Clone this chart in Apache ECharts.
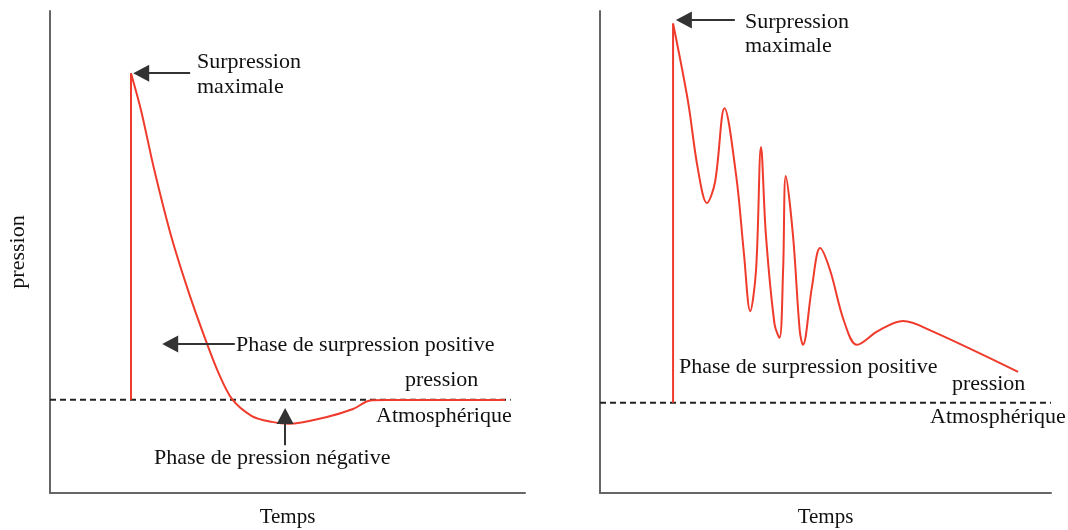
<!DOCTYPE html>
<html>
<head>
<meta charset="utf-8">
<script src="https://cdn.jsdelivr.net/npm/echarts@6/dist/echarts.min.js"></script>
<style>
  html, body { margin: 0; padding: 0; background: #fff; }
  #chart { width: 1068px; height: 530px; }
</style>
</head>
<body>
<div id="chart"></div>
<script>
// temps (0..100) / pression relative (0 = pression atmosphérique)
const spikeLeft = [[17.05, 0], [17.05, 84]];
const curveLeft = [
  [17.05, 84], [19.2, 74.3], [21.9, 59.4], [25.5, 42.1], [29.1, 28.0],
  [32.6, 15.9], [35.4, 7.1], [38.3, 0.2], [42.5, -4.2], [46.7, -5.7],
  [50.3, -6.2], [58.1, -4.5], [63.8, -2.4], [67.4, -0.2], [71.0, -0.1],
  [95.8, -0.1]
];
const spikeRight = [[16.2, 0], [16.2, 96.8]];
const curveRight = [
  [16.2, 96.8], [19.5, 77.0], [21.7, 59.7], [23.7, 51.0], [25.5, 56.3],
  [27.6, 75.2], [30.2, 57.9], [31.9, 38.3], [33.3, 23.4], [34.6, 33.9],
  [35.7, 65.3], [36.8, 42.6], [38.7, 20.1], [39.8, 16.6], [40.6, 33.9],
  [41.2, 57.9], [42.8, 42.6], [44.3, 18.3], [45.0, 14.8], [47.0, 29.6],
  [48.8, 39.5], [51.0, 33.9], [54.1, 20.9], [57.0, 14.8], [61.6, 18.3],
  [67.2, 20.9], [73.6, 18.3], [92.7, 7.9]
];
const atmLeft = [[0, 0], [97, 0]];
const atmRight = [[0, 0], [100, 0]];

const red = "#ef3b2c";
const serif = "Liberation Serif";

const chart = echarts.init(document.getElementById("chart"));

function axisX(idx) {
  return {
    type: "value", gridIndex: idx, min: 0, max: 100,
    name: "Temps", nameLocation: "middle", nameGap: 14,
    nameTextStyle: { fontFamily: serif, fontSize: 21, color: "#111" },
    axisLine: { onZero: false, lineStyle: { color: "#666", width: 2 } },
    axisTick: { show: false }, axisLabel: { show: false }, splitLine: { show: false }
  };
}
function axisY(idx, min, name) {
  return {
    type: "value", gridIndex: idx, min: min, max: 100,
    name: name, nameLocation: "middle", nameGap: 21, nameRotate: 90,
    nameTextStyle: { fontFamily: serif, fontSize: 22, color: "#111" },
    axisLine: { show: true, onZero: false, lineStyle: { color: "#666", width: 2 } },
    axisTick: { show: false }, axisLabel: { show: false }, splitLine: { show: false }
  };
}
function arrows(list) {
  return {
    silent: true, animation: false,
    symbol: ["none", "triangle"], symbolSize: [17, 16],
    lineStyle: { color: "#333", width: 2, type: "solid" },
    label: { show: false },
    data: list.map(a => [{ coord: a[0] }, { coord: a[1] }])
  };
}
function txt(x, y, s) {
  return {
    type: "text", left: x, top: y,
    style: { text: s, font: "22px '" + serif + "'", fill: "#111" }
  };
}

const option = {
  animation: false,
  grid: [
    { left: 50, top: 11, width: 475, height: 482, outerBoundsMode: "none" },
    { left: 600, top: 11, width: 451, height: 482, outerBoundsMode: "none" }
  ],
  xAxis: [axisX(0), axisX(1)],
  yAxis: [axisY(0, -24, "pression"), axisY(1, -23, "")],
  series: [
    {
      type: "line", xAxisIndex: 0, yAxisIndex: 0, data: atmLeft, symbol: "none",
      lineStyle: { color: "#222", width: 2, type: [6, 4] }
    },
    {
      type: "line", xAxisIndex: 1, yAxisIndex: 1, data: atmRight, symbol: "none",
      lineStyle: { color: "#222", width: 2, type: [6, 4] }
    },
    {
      type: "line", xAxisIndex: 0, yAxisIndex: 0, data: spikeLeft, symbol: "none",
      lineStyle: { color: red, width: 2 }
    },
    {
      type: "line", xAxisIndex: 0, yAxisIndex: 0, data: curveLeft, symbol: "none", smooth: 0.3,
      lineStyle: { color: red, width: 2 },
      markLine: arrows([
        [[29.5, 84], [19.2, 84]],
        [[38.9, 14.3], [25.3, 14.3]],
        [[49.5, -11.7], [49.5, -4.2]]
      ])
    },
    {
      type: "line", xAxisIndex: 1, yAxisIndex: 1, data: spikeRight, symbol: "none",
      lineStyle: { color: red, width: 2 }
    },
    {
      type: "line", xAxisIndex: 1, yAxisIndex: 1, data: curveRight, symbol: "none", smooth: 0.35,
      lineStyle: { color: red, width: 2 },
      markLine: arrows([[[29.9, 97.7], [18.6, 97.7]]])
    }
  ],
  graphic: [
    txt(197, 51, "Surpression"),
    txt(197, 76, "maximale"),
    txt(236, 334, "Phase de surpression positive"),
    txt(405, 369, "pression"),
    txt(376, 405, "Atmosphérique"),
    txt(154, 447, "Phase de pression négative"),
    txt(745, 11, "Surpression"),
    txt(745, 35, "maximale"),
    txt(679, 356, "Phase de surpression positive"),
    txt(952, 373, "pression"),
    txt(930, 406, "Atmosphérique")
  ]
};

chart.setOption(option);
</script>
</body>
</html>
